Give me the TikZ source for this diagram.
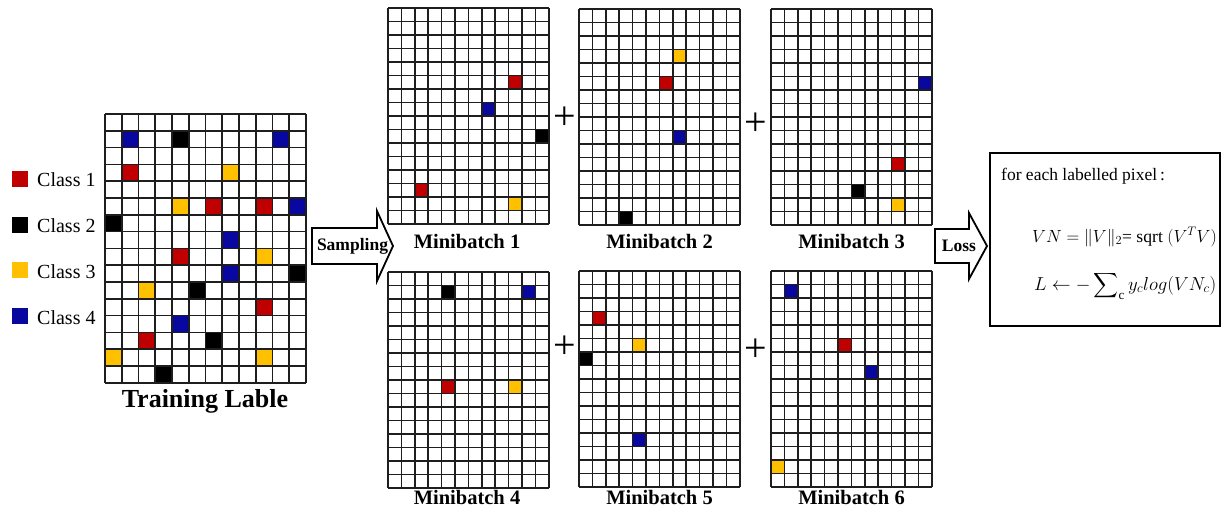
\RequirePackage{fix-cm}
\documentclass[tikz,border=0pt]{standalone}
\usepackage{amsmath}
\usepackage{fontspec}
\setmainfont{Liberation Serif}
\definecolor{cred}{RGB}{192,0,0}
\definecolor{cyel}{RGB}{255,192,0}
\definecolor{cblu}{RGB}{8,8,160}
\definecolor{cblk}{RGB}{0,0,0}
\definecolor{gline}{RGB}{30,30,30}
\tikzset{
  gridline/.style={draw=gline, line width=1.6pt},
  blockarrow/.style={draw=black, line width=1.8pt, fill=white, line join=miter},
  mblabel/.style={font=\fontsize{20.5}{24}\selectfont\bfseries, anchor=base, inner sep=0pt},
  legtext/.style={font=\fontsize{20}{24}\selectfont, anchor=base west, inner sep=0pt},
  plussign/.style={font=\fontsize{40}{40}\selectfont, inner sep=0pt},
  arrowtext/.style={font=\fontsize{17.5}{20}\selectfont\bfseries, inner sep=0pt},
  boxtext/.style={font=\fontsize{17.5}{20}\selectfont, anchor=base west, inner sep=0pt},
  eqtext/.style={font=\fontsize{18.8}{22}\selectfont, anchor=base west, inner sep=0pt},
}
\newcommand{\mbgrid}[5]{%
  \begin{scope}[shift={(#1,#2)}]
    \fill[white] (0,0) rectangle (12*#3,16*#4);
    \foreach \c/\r/\col in {#5} { \fill[\col] (\c*#3,\r*#4) rectangle ++(#3,#4); }
    \foreach \i in {0,...,12} \draw[gridline] (\i*#3,0) -- (\i*#3,16*#4);
    \foreach \j in {0,...,16} \draw[gridline] (0,\j*#4) -- (12*#3,\j*#4);
  \end{scope}}
\begin{document}
\begin{tikzpicture}[x=1pt,y=-1pt]
\useasboundingbox (0,0) rectangle (1222,515);
\fill[white] (0,0) rectangle (1222,515);

% legend
\fill[cred] (12,171) rectangle (28,187);
\fill[cblk] (12,217) rectangle (28,233);
\fill[cyel] (12,262) rectangle (28,278);
\fill[cblu] (12,308) rectangle (28,324);
\node[legtext] (c1) at (37,186) {Class 1};
\node[legtext] (c2) at (37,232) {Class 2};
\node[legtext] (c3) at (37,278) {Class 3};
\node[legtext] (c4) at (37,324) {Class 4};

% training label grid
\mbgrid{105}{114}{16.75}{16.8}{1/1/cblu, 4/1/cblk, 10/1/cblu,
  1/3/cred, 7/3/cyel,
  4/5/cyel, 6/5/cred, 9/5/cred, 11/5/cblu,
  0/6/cblk, 7/7/cblu, 4/8/cred, 9/8/cyel,
  7/9/cblu, 11/9/cblk, 2/10/cyel, 5/10/cblk,
  9/11/cred, 4/12/cblu, 2/13/cred, 6/13/cblk,
  0/14/cyel, 9/14/cyel, 3/15/cblk}
\node[font=\fontsize{26}{30}\selectfont\bfseries, anchor=base, inner sep=0pt] (tl) at (205,407) {Training Lable};

% minibatches
\mbgrid{388}{8}{13.4}{13.5}{9/5/cred, 7/7/cblu, 11/9/cblk, 2/13/cred, 9/14/cyel}
\mbgrid{579}{9}{13.4}{13.5}{7/3/cyel, 6/5/cred, 7/9/cblu, 3/15/cblk}
\mbgrid{771}{9}{13.4}{13.5}{11/5/cblu, 9/11/cred, 6/13/cblk, 9/14/cyel}
\mbgrid{388}{272}{13.4}{13.5}{4/1/cblk, 10/1/cblu, 4/8/cred, 9/8/cyel}
\mbgrid{579}{271}{13.4}{13.5}{1/3/cred, 4/5/cyel, 0/6/cblk, 4/12/cblu}
\mbgrid{771}{271}{13.4}{13.5}{1/1/cblu, 5/5/cred, 7/7/cblu, 0/14/cyel}

\node[mblabel] (m1) at (467,248) {Minibatch 1};
\node[mblabel] (m2) at (659.5,248) {Minibatch 2};
\node[mblabel] (m3) at (851.5,248) {Minibatch 3};
\node[mblabel] (m4) at (467,504) {Minibatch 4};
\node[mblabel] (m5) at (659.5,504) {Minibatch 5};
\node[mblabel] (m6) at (851.5,504) {Minibatch 6};

\node[plussign] (p1) at (565,118) {+};
\node[plussign] (p2) at (756,124) {+};
\node[plussign] (p3) at (565,347) {+};
\node[plussign] (p4) at (756,350) {+};

% block arrows
\draw[blockarrow] (312,228) -- (377,228) -- (377,211) -- (393,246) -- (377,281) -- (377,264) -- (312,264) -- cycle;
\node[arrowtext] (samp) at (352.5,246) {Sampling};
\draw[blockarrow] (935,229) -- (969,229) -- (969,213) -- (987,246) -- (969,279) -- (969,263) -- (935,263) -- cycle;
\node[arrowtext] (loss) at (959,246) {Loss};

% loss box
\draw[line width=1.5pt] (990,153) rectangle (1220,326);
\node[boxtext] (t1) at (1001,180) {for each labelled pixel\kern3pt:};
\node[eqtext, font=\fontsize{17.6}{21}\selectfont] (t2) at (1032,242) {$VN=\|V\|_2$= sqrt $(V^TV)$};
\node[eqtext] (t3) at (1034,290) {$L\leftarrow-\displaystyle\sum\nolimits_{\mathrm{c}}y_c log(VN_c)$};
\end{tikzpicture}
\end{document}
